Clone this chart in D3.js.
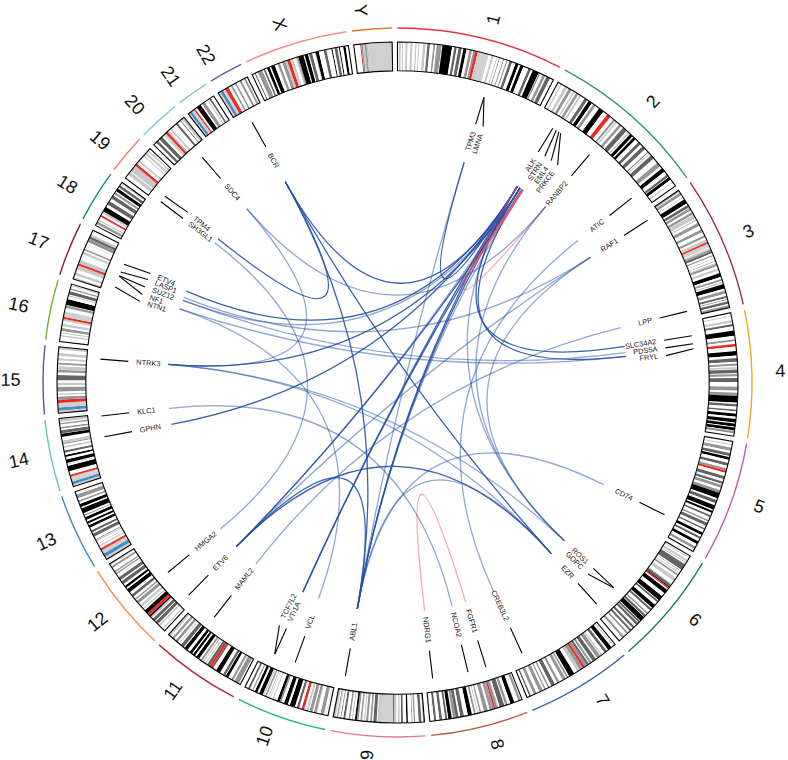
<!DOCTYPE html>
<html>
<head>
<meta charset="utf-8">
<style>
  body { margin: 0; background: #fff; }
  text { font-family: "Liberation Sans", Arial, sans-serif; }
</style>
<script src="https://cdn.jsdelivr.net/npm/d3@7"></script>
</head>
<body>
<div id="chart"></div>
<script>
// chromosomes, clockwise from the top, with length in Mb
const chromosomes = ['1','2','3','4','5','6','7','8','9','10','11','12','13','14','15','16','17','18','19','20','21','22','X','Y'];
const chromLengths = [249.25,243.2,198,191.15,180.9,171.1,159.1,146.4,141.2,135.5,135,133.85,115.2,107.35,102.5,90.35,81.2,78.1,59.1,63,48.1,51.3,155.3,59.4];

// cytobands: [band end in Mb, stain] with stain 0 gneg, 1 gpos25, 2 gpos50, 3 gpos75, 4 gpos100, 5 acen, 6 gvar, 7 stalk
const bands1 = [[2.3,0],[5.3,1],[7.1,0],[9.1,1],[12.5,0],[15.9,1],[20.1,0],[23.6,1],[27.6,0],[29.9,1],[32.3,0],[34.3,1],[39.6,0],[43.7,1],[46.3,0],[50.2,3],[55.6,0],[58.5,2],[60.8,0],[68.5,2],[69.5,0],[84.7,4],[88.1,0],[92,3],[94.7,0],[99.7,3],[102.2,0],[107.2,4],[111.8,0],[116.1,2],[117.8,0],[120.6,2],[125,5],[142.6,6],[147,0],[150.3,1],[155,0],[156.5,1],[159.1,0],[160.5,2],[165.5,0],[167.2,2],[170.9,0],[172.9,2],[176,0],[180.3,3],[185.8,0],[190.8,4],[193.8,0],[198.7,4],[207.2,0],[211.5,3],[214.5,0],[224.1,4],[224.6,0],[227,2],[231.3,0],[235.6,2],[237.7,0],[243.7,3],[249.25,0]];
const bands2 = [[4.4,0],[7,1],[12.2,0],[16.7,1],[19.2,0],[24,2],[27.4,0],[30,1],[32.1,0],[36.6,2],[38.6,0],[41.8,1],[47.8,0],[52.9,3],[55.3,0],[61.3,4],[63.9,0],[68.4,2],[74.9,0],[83.3,4],[90.5,0],[96.8,5],[102.7,0],[106,2],[107.5,0],[110.2,1],[114.4,0],[118.8,2],[122.4,0],[129.9,3],[132.5,0],[135.1,1],[136.8,0],[142.2,4],[144.1,0],[148.7,4],[149.9,0],[150.5,1],[154.9,0],[159.8,3],[163.7,0],[169.7,3],[175.7,0],[177.1,3],[178.7,0],[180.6,1],[183,0],[189.4,3],[197.8,0],[204.9,2],[209,0],[215.3,4],[221.5,0],[225.2,3],[226.1,0],[231,4],[235.6,0],[237.3,1],[243.2,0]];
const bands3 = [[2.8,2],[4,0],[8.7,2],[11.8,0],[13.2,1],[16.4,0],[23.9,4],[26.4,0],[30.9,3],[32.1,0],[36.5,2],[39.4,0],[43.7,2],[44.2,0],[50.6,1],[52.3,0],[54.4,1],[58.6,0],[63.7,2],[69.8,0],[74.2,2],[79.8,0],[83.5,2],[87.2,0],[87.9,2],[91,1],[93.9,5],[98.3,6],[100,1],[101.2,0],[103.8,1],[106.5,2],[110,3],[112.8,0],[115,2],[118,0],[119.5,1],[122.9,0],[124.1,2],[126.1,0],[127.7,1],[131.2,2],[135,0],[138.7,1],[142.8,0],[148.9,4],[152.1,0],[155.3,2],[157,0],[159.3,1],[160.7,0],[167.6,4],[170.9,0],[175.7,2],[179.2,0],[182.7,3],[184.5,0],[186,2],[187.9,0],[192,3],[194,0],[198,2]];
const bands4 = [[4.5,0],[6,1],[11.3,0],[15.2,1],[17.8,0],[21.3,3],[27.7,0],[35.8,4],[41.2,0],[44.6,2],[48.2,0],[52.7,5],[59.5,0],[66.6,4],[70.5,0],[76.3,3],[78.9,0],[82.4,2],[84.1,0],[86.9,1],[88,0],[93.7,3],[95.1,0],[98.8,2],[101.1,0],[107.7,3],[114.6,0],[120.8,2],[123.8,0],[128.8,2],[139.5,4],[141.5,0],[145.5,3],[150.2,0],[152.9,3],[156.3,0],[161,4],[164.5,0],[170.1,4],[171.9,0],[176.3,4],[177.6,0],[182.3,4],[183.2,0],[187.1,2],[191.15,0]];
const bands5 = [[4.5,0],[6.3,1],[9.8,0],[15,2],[18.4,0],[23.3,3],[24.6,0],[28.9,4],[33.8,0],[38.4,3],[42.5,0],[46.1,2],[49.6,5],[54.9,0],[59.9,3],[63.6,0],[67.4,3],[69.1,0],[74,2],[77.6,0],[82.1,2],[91,4],[93.9,0],[99,3],[102.5,0],[109.6,4],[111.5,0],[115,4],[119,0],[122,3],[127,0],[129.7,2],[131.7,0],[136.9,3],[141,0],[143.4,3],[148.4,0],[152.7,4],[155.7,0],[159,3],[163.5,0],[168,4],[172.6,0],[176.9,2],[180.9,0]];
const bands6 = [[2.3,0],[4.2,1],[7.1,0],[10.6,1],[11.6,0],[13.4,1],[15.2,0],[25.2,3],[27,0],[28,2],[30.4,0],[32.1,1],[33.5,0],[36.6,2],[40.5,0],[46.2,1],[51.8,0],[53,1],[57.4,3],[58.7,4],[61,5],[63.3,0],[70,4],[75.9,0],[83.9,4],[84.9,0],[88,3],[93.1,0],[99.5,4],[101,0],[104.5,3],[109.1,0],[111.9,2],[113.9,0],[117.6,3],[118.3,0],[126.1,4],[127.1,0],[130.3,3],[131.2,0],[135.2,3],[139,0],[142.8,3],[145.6,0],[149,3],[152.5,0],[155.5,2],[161,0],[164.5,2],[171.1,0]];
const bands7 = [[2.8,0],[4.5,1],[7.3,0],[13.8,4],[16.5,0],[20.9,3],[25.5,0],[28,1],[28.8,0],[35,2],[37.2,0],[43.3,3],[45.4,0],[49,2],[50.5,0],[54,3],[58,2],[61.7,5],[67,2],[72.2,1],[77.5,0],[86.4,4],[88.2,0],[91.1,2],[92.8,0],[98,2],[103.8,0],[107.4,2],[111.5,0],[117.7,3],[121.1,0],[123.8,2],[127.5,0],[129.6,2],[132.6,0],[138.2,2],[143.1,0],[147.9,2],[152.6,0],[155.1,3],[159.1,0]];
const bands8 = [[2.2,0],[6.2,2],[12.7,0],[19,4],[23.3,0],[27.4,2],[28.8,0],[36.5,3],[38.3,0],[39.7,1],[43.1,2],[45.6,5],[48.1,2],[52.4,2],[55.5,0],[61.6,2],[66,0],[68.4,2],[70.6,0],[72.4,1],[74.6,0],[77.5,2],[80.6,0],[87,4],[93.3,0],[99,3],[101.6,0],[106.2,3],[110.5,2],[112.1,0],[117.7,4],[119.2,0],[122.5,3],[127.3,0],[131.5,3],[136.4,0],[139.9,3],[146.4,0]];
const bands9 = [[2.2,2],[4.6,0],[9,3],[14.2,0],[16.6,2],[18.5,0],[19.9,2],[25.6,0],[28,4],[33.2,0],[36.3,3],[38.4,0],[41,1],[43.6,0],[47.3,1],[49,5],[65.9,6],[68.7,1],[72.7,1],[74,0],[79.2,3],[81.1,0],[84.1,2],[86.9,0],[90.4,2],[91.8,0],[93.9,1],[96.6,0],[99.2,2],[101.9,0],[104.8,2],[107.7,4],[110.9,0],[112.1,2],[114.9,0],[117.7,2],[122.5,0],[125.8,3],[128.7,0],[130.4,2],[132.5,0],[133.5,1],[134,0],[135.9,2],[137.4,0],[141.2,1]];
const bands10 = [[3,0],[3.8,1],[6.6,0],[12.2,2],[17.3,0],[18.6,1],[22.6,2],[24.6,0],[29.6,2],[31.3,0],[34.4,1],[38,0],[42.3,5],[46.1,0],[49.9,3],[52.9,0],[61.2,4],[64.5,0],[70.6,4],[74.9,0],[77.7,2],[82,4],[87.9,0],[89.5,1],[92.9,0],[94.1,1],[95.3,0],[97.2,1],[99.3,0],[101.9,2],[103,0],[104.9,1],[105.8,0],[111.9,4],[114.9,0],[119.1,4],[121.7,0],[123.9,2],[127.5,0],[130.6,3],[135.5,0]];
const bands11 = [[2.8,0],[10.7,2],[12.7,0],[16.2,2],[21.7,0],[26.1,4],[27.2,0],[31,3],[36.4,0],[43.4,4],[48.8,0],[51.6,3],[55.7,5],[59.9,3],[61.7,0],[63.4,1],[65.9,0],[67.8,1],[69.1,0],[72.2,2],[74.9,0],[80.4,4],[83,0],[86.7,4],[88.5,0],[92.8,4],[97.2,0],[102.9,4],[104.5,0],[110.4,3],[112.8,0],[114.5,1],[116.7,0],[121.2,2],[123.9,0],[127.8,2],[130.8,0],[135,1]];
const bands12 = [[3.3,0],[5.4,1],[10.1,0],[12.8,1],[14.8,0],[20,3],[21.3,0],[26.3,3],[27.7,0],[30.7,1],[33.3,4],[37.8,5],[44.2,4],[46.4,0],[48.7,1],[51.1,0],[54.9,1],[58.1,0],[63.1,2],[65.1,0],[67.7,2],[71.5,0],[75.7,3],[80.3,0],[86.7,4],[89,0],[92.6,4],[96.2,0],[101.6,3],[103.8,0],[109,3],[111.7,0],[112.3,1],[114.3,0],[116.8,2],[118.1,0],[120.7,2],[125.9,0],[129.3,2],[131.4,0],[133.85,1]];
const bands13 = [[4.5,6],[10,7],[16,6],[19.5,5],[22.6,0],[24.9,1],[27.2,0],[28.3,1],[31.6,0],[33.4,1],[34,0],[35.5,2],[40.1,0],[45.2,3],[47.3,0],[50.9,3],[55.3,0],[59.6,4],[62.3,0],[65.7,4],[68.6,0],[73.3,4],[75.4,0],[77.2,2],[79.8,0],[87.7,4],[90,0],[95,4],[98.2,0],[101.1,2],[104.2,0],[110.3,2],[115.2,0]];
const bands14 = [[3.7,6],[8.1,7],[13,6],[16.1,6],[19.1,5],[24.6,0],[33.3,4],[35.3,0],[36.6,1],[37.8,0],[43.5,4],[47.2,0],[50.4,4],[54.1,0],[57.6,3],[61.5,0],[64.4,1],[67.4,0],[69.2,2],[73.3,1],[78.8,0],[83.6,4],[84,0],[89.3,3],[91.4,0],[94.2,2],[98,0],[100.4,2],[102.2,0],[107.35,1]];
const bands15 = [[3.9,6],[8.7,7],[15.8,6],[20.7,5],[25.7,2],[28.1,0],[30.4,1],[33.6,0],[40.7,2],[43,0],[47.5,1],[51,0],[59.1,3],[63.1,0],[67.2,2],[67.3,0],[72.7,1],[75.2,0],[78.3,2],[81.7,0],[85.2,1],[88.5,0],[93.3,1],[98.5,0],[102.5,1]];
const bands16 = [[7.9,0],[10.5,1],[12.6,0],[14.8,1],[16.8,0],[21.2,2],[24.2,0],[28.1,1],[32.1,0],[35.3,1],[38.6,5],[47,6],[52.6,0],[56.7,2],[57.4,0],[66.7,4],[70.8,0],[72.9,1],[74.1,0],[79.2,3],[81.7,0],[84.2,2],[87.1,0],[88.7,1],[90.35,0]];
const bands17 = [[3.3,1],[6.5,0],[10.7,1],[16,0],[22.2,1],[25.8,5],[31.8,1],[38.1,0],[38.4,1],[40.9,0],[44.9,1],[47.4,0],[50.2,2],[57.6,0],[58.3,1],[61.3,0],[62.6,2],[64.2,3],[67.1,2],[70.9,3],[74.8,1],[81.2,0]];
const bands18 = [[2.9,0],[7.1,2],[8.5,0],[10.9,1],[15.4,0],[18.5,5],[21.5,0],[25,1],[32.7,4],[37.2,0],[43.5,3],[48.2,0],[53.8,3],[56.2,0],[59.6,2],[61.6,0],[66.8,4],[68.7,0],[73.1,3],[75.4,0],[78.1,1]];
const bands19 = [[6.9,0],[12.6,1],[13.8,0],[24.4,1],[28.6,5],[32.4,0],[35.5,1],[38.3,0],[38.7,1],[43.5,0],[45.2,1],[48,0],[51.4,1],[53.6,0],[56.3,1],[59.1,0]];
const bands20 = [[5.1,0],[9.2,3],[12.1,0],[17.9,3],[21.3,0],[22.3,1],[25.6,1],[29.4,5],[32.1,1],[34.4,0],[37.6,1],[41.7,0],[42.1,1],[46.4,0],[49.8,3],[55,0],[56.5,3],[58.4,0],[63,1]];
const bands21 = [[2.8,6],[6.8,7],[10.9,6],[13.2,5],[14.3,6],[16.4,0],[24,4],[26.2,0],[31.5,2],[35.8,0],[37.8,1],[39.7,0],[42.6,3],[48.1,0]];
const bands22 = [[3.8,6],[8.3,7],[12.2,6],[17.9,5],[22.2,0],[25,2],[29.6,0],[32.2,2],[37.6,0],[41,2],[45.2,0],[48.4,2],[51.3,0]];
const bandsX = [[4.3,0],[6,3],[9.5,0],[17.1,2],[19.2,0],[21.9,3],[24.9,0],[29.3,4],[31.5,0],[37.6,4],[42.4,0],[46.4,2],[49.8,0],[54.8,2],[58.1,1],[63,5],[64.6,6],[67.8,1],[71.8,0],[74,1],[76,2],[84.6,4],[86.2,0],[91.8,4],[93.5,0],[98.3,3],[102.6,0],[103.7,1],[108.7,4],[116.5,0],[120.9,3],[128.7,0],[130.4,4],[133.6,0],[138,3],[140.3,0],[142.1,4],[147.1,0],[150.8,4],[155.3,0]];
const bandsY = [[10.1,0],[11.6,5],[14,2],[17,1],[19.8,2],[22.3,1],[59.4,6]];
const allBands = [bands1,bands2,bands3,bands4,bands5,bands6,bands7,bands8,bands9,bands10,bands11,bands12,bands13,bands14,bands15,bands16,bands17,bands18,bands19,bands20,bands21,bands22,bandsX,bandsY];

// genes: name, chromosome, position in Mb
const genes = [
  ['TPM3','1',154.1],['LMNA','1',154.3],
  ['ALK','2',29.9],['STRN','2',37.1],['EML4','2',42.4],['PRKCE','2',46],['RANBP2','2',109.3],['ATIC','2',216.2],
  ['RAF1','3',12.6],['LPP','3',188],
  ['SLC34A2','4',25.7],['PDS5A','4',39.8],['FRYL','4',48.5],
  ['CD74','5',149.8],
  ['ROS1','6',117.6],['GOPC','6',117.6],['EZR','6',159.2],
  ['CREB3L2','7',137.6],
  ['FGFR1','8',38.3],['NCOA2','8',71],['NDRG1','8',134.2],
  ['ABL1','9',133.7],
  ['VCL','10',75.8],['VTI1A','10',114.4],['TCF7L2','10',114.7],
  ['MAML2','11',95.8],
  ['ETV6','12',12],['HMGA2','12',66.2],
  ['GPHN','14',67],['KLC1','14',104],
  ['NTRK3','15',88.5],
  ['NTN1','17',9],['NF1','17',29.5],['SUZ12','17',30.3],['LASP1','17',37],['ETV4','17',52],
  ['SH3GL1','19',4.4],['TPM4','19',16.2],
  ['SDC4','20',43.9],
  ['BCR','22',23.6]
];

// gene pairs drawn as links: [gene, gene, how often the pair was seen]
const fusions = [
  ['ALK','TPM3',2],['ALK','ETV4',2],['ALK','GPHN',2],['ALK','TCF7L2',2],['ALK','ABL1',2],['ALK','BCR',2],['ALK','SLC34A2',2],['ALK','ROS1',1],
  ['STRN','NTRK3',2],['STRN','VTI1A',2],['STRN','ABL1',2],['STRN','NF1',1],['STRN','ETV6',1],
  ['EML4','FRYL',2],['EML4','ETV6',2],['PRKCE','ABL1',1],['TPM3','ABL1',1],
  ['ALK','RANBP2',1],['EML4','PRKCE',2],['FGFR1','NDRG1',1],
  ['NTN1','FRYL',1],['SUZ12','PDS5A',1],['LASP1','RAF1',1],['NTN1','VCL',1],['RANBP2','SDC4',1],['SDC4','NTRK3',1],
  ['SH3GL1','HMGA2',1],['BCR','ABL1',2],['BCR','EZR',2],['BCR','TPM4',2],
  ['ETV6','ABL1',2],['ETV6','EZR',2],['ETV6','RAF1',1],
  ['KLC1','NCOA2',1],['MAML2','LPP',1],
  ['CD74','ABL1',1],['EZR','ABL1',1],['RANBP2','ROS1',1],['ATIC','CREB3L2',1],['RAF1','ROS1',1],
  ['NTRK3','ROS1',1],['NTRK3','EZR',1]
];

// colours of the outer arcs, one per chromosome
const chromColors = ['#e8303a','#2e9b5f','#9c2a62','#f5a623','#b85fb0','#1d8050','#3264b5','#b5603a','#e8709e','#2fb56f','#b03038','#f58a52','#4a85b8','#5dc8bc','#7048a8','#6cb82c','#8b1a2b','#10897a','#f07a66','#80c8ea','#88ccb0','#7a4ea8','#f58a80','#dd7a28'];
const stainColors = ['#ffffff','#c8c8c8','#969696','#646464','#000000','#ee2a24','#d0d0d0','#4a8bc4'];

// layout
const width = 788, height = 760;
const cx = 397.5, cy = 382.5;
const gapMb = 8.23; // gap between chromosomes
const outerArcR = 354.5, ideoOuter = 340.5, ideoInner = 311.7;
const tickOuter = 298, tickInner = 270, labelR = 262, linkR = 230;
const minLabelGap = 1.65;
// the chr17 labels sit a little before where the forward spread puts them
const labelNudge = { NTN1: -1.2, NF1: -1.9, SUZ12: -1.85, LASP1: -1.8, ETV4: -2.05 };

const totalMb = d3.sum(chromLengths) + gapMb * chromLengths.length;
const angle = d3.scaleLinear().domain([0, totalMb]).range([0, 360]);
const linkOpacity = d3.scaleLinear().domain([1, 2]).range([0.5, 0.9]);
const rad = (d) => (d * Math.PI) / 180;
const polar = (r, a) => [r * Math.sin(rad(a)), -r * Math.cos(rad(a))];

// start of every chromosome on the shared Mb axis
const chromStart = {};
let running = 0;
chromosomes.forEach((c, i) => {
  chromStart[c] = running;
  running += chromLengths[i] + gapMb;
});

const svg = d3.select('#chart').append('svg').attr('width', width).attr('height', height);
const g = svg.append('g').attr('transform', `translate(${cx},${cy})`);

const arc = d3.arc();
const arcPath = (r0, r1, a0, a1) =>
  arc({ innerRadius: r0, outerRadius: r1, startAngle: rad(a0), endAngle: rad(a1) });

// links go first so they stay under the text
const geneInfo = new Map();
genes.forEach(([name, chr, pos]) => {
  geneInfo.set(name, { name, chr, angle: angle(chromStart[chr] + pos) });
});

const linkPath = ([a, b]) => {
  const p = d3.path();
  const p0 = polar(linkR, geneInfo.get(a).angle);
  const p1 = polar(linkR, geneInfo.get(b).angle);
  p.moveTo(p0[0], p0[1]);
  p.quadraticCurveTo(0, 0, p1[0], p1[1]);
  return p.toString();
};

g.append('g')
  .selectAll('path')
  .data(fusions)
  .enter()
  .append('path')
  .attr('d', linkPath)
  .attr('fill', 'none')
  .attr('stroke', (d) => (geneInfo.get(d[0]).chr === geneInfo.get(d[1]).chr ? '#f0505f' : '#2550a8'))
  .attr('stroke-opacity', (d) => linkOpacity(d[2]))
  .attr('stroke-width', 1.3);

// ideogram bands
chromosomes.forEach((c, i) => {
  const start = chromStart[c];
  const chromBands = allBands[i].map((b, j, arr) => ({
    from: j === 0 ? 0 : arr[j - 1][0],
    to: b[0],
    stain: b[1]
  }));

  g.append('g')
    .selectAll('path')
    .data(chromBands)
    .enter()
    .append('path')
    .attr('d', (d) => arcPath(ideoInner, ideoOuter, angle(start + d.from), angle(start + d.to)))
    .attr('fill', (d) => stainColors[d.stain]);

  g.append('path')
    .attr('d', arcPath(ideoInner, ideoOuter, angle(start), angle(start + chromLengths[i])))
    .attr('fill', 'none')
    .attr('stroke', '#000')
    .attr('stroke-width', 1.1);

  // coloured arc outside the ideogram
  g.append('path')
    .attr('d', arcPath(outerArcR - 0.7, outerArcR + 0.7, angle(start), angle(start + chromLengths[i])))
    .attr('fill', chromColors[i]);

  // chromosome name, turned so it stays readable on both halves
  const mid = angle(start + chromLengths[i] / 2);
  const right = mid < 180;
  // the names sit on an oval and lean off the chromosome middle a bit
  const labelA = right ? mid + 1.6 * Math.cos(rad(mid)) - 0.4 : mid - 1.5 * Math.cos(rad(mid));
  const r = 373 + (right ? 10 : 14) * Math.abs(Math.sin(rad(mid)));
  const [x, y] = polar(r, labelA);
  const rot = right ? mid - 90 : mid - 270;
  g.append('text')
    .attr('transform', `translate(${x},${y}) rotate(${rot})`)
    .attr('text-anchor', 'middle')
    .attr('dominant-baseline', 'central')
    .attr('font-size', 18)
    .attr('fill', '#111')
    .text(c);
});

// spread the gene labels so they do not overlap
const labelled = Array.from(geneInfo.values()).sort((a, b) => a.angle - b.angle);
labelled.forEach((d, i) => {
  d.labelAngle = i === 0 ? d.angle : Math.max(d.angle, labelled[i - 1].labelAngle + minLabelGap);
});
labelled.forEach((d) => {
  d.finalAngle = d.labelAngle + (labelNudge[d.name] || 0);
});

g.append('g')
  .selectAll('path')
  .data(labelled)
  .enter()
  .append('path')
  .attr('d', (d) => {
    const p = d3.path();
    const p0 = polar(tickOuter, d.angle);
    const p1 = polar(tickInner, d.finalAngle);
    p.moveTo(p0[0], p0[1]);
    p.lineTo(p1[0], p1[1]);
    return p.toString();
  })
  .attr('fill', 'none')
  .attr('stroke', '#000')
  .attr('stroke-width', 1.1);

g.append('g')
  .selectAll('text')
  .data(labelled)
  .enter()
  .append('text')
  .attr('transform', (d) => {
    const [x, y] = polar(labelR, d.finalAngle);
    const rot = d.finalAngle < 180 ? d.finalAngle - 90 : d.finalAngle - 270;
    return `translate(${x},${y}) rotate(${rot})`;
  })
  .attr('text-anchor', (d) => (d.finalAngle < 180 ? 'end' : 'start'))
  .attr('dominant-baseline', 'central')
  .attr('font-size', 7.4)
  .attr('fill', '#222')
  .text((d) => d.name);
</script>
</body>
</html>
